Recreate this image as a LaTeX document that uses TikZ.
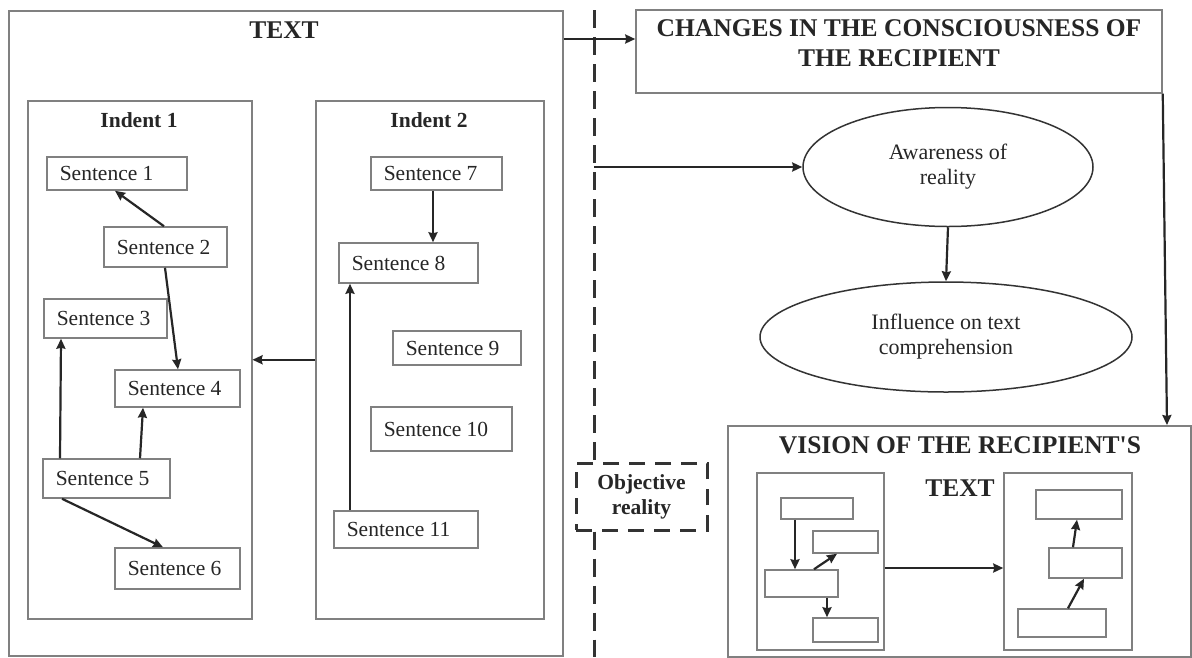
\documentclass[tikz,border=0pt]{standalone}
\usepackage{fontspec}
\setmainfont{Liberation Serif}
\usetikzlibrary{shapes.geometric,arrows.meta,calc}
\begin{document}
\begin{tikzpicture}[x=1pt,y=-1pt,
  frame/.style={draw=black!50, line width=1.5pt, inner sep=0pt, fill=white},
  sent/.style={frame, align=flush left, inner xsep=13pt, inner ysep=0pt, anchor=west,
    text=black!85, font=\fontsize{21.5}{25}\selectfont},
  htitle/.style={font=\fontsize{25.5}{30}\selectfont\bfseries, align=flush center, inner sep=0pt, text=black!85},
  ititle/.style={font=\fontsize{21.5}{25}\selectfont\bfseries, inner sep=0pt, text=black!85},
  oval/.style={ellipse, draw=black!80, line width=1.5pt, inner sep=0pt, align=flush center,
    text=black!85, font=\fontsize{22}{25}\selectfont},
  arr/.style={draw=black!85, line width=2.2pt, -{Stealth[length=10pt,width=9pt,inset=1pt]}},
  dline/.style={draw=black!80, line width=3pt, dash pattern=on 18pt off 9pt},
]
\useasboundingbox (0,0) rectangle (1192,657);
\fill[white] (0,0) rectangle (1192,657);

% TEXT block
\node[frame, minimum width=554, minimum height=645, anchor=north west] (textbox) at (8,10) {};
\node[htitle] (textt) at (284,30) {TEXT};

\node[frame, minimum width=224, minimum height=518, anchor=north west] (ind1) at (27,100) {};
\node[ititle] (ind1t) at (139,120) {Indent 1};
\node[frame, minimum width=228, minimum height=518, anchor=north west] (ind2) at (315,100) {};
\node[ititle] (ind2t) at (429,120) {Indent 2};

\node[sent, text width=114, minimum height=33] (s1) at (46,173.5) {Sentence 1};
\node[sent, text width=97,  minimum height=40] (s2) at (103,247) {Sentence 2};
\node[sent, text width=97,  minimum height=39] (s3) at (43,318.5) {Sentence 3};
\node[sent, text width=99,  minimum height=37] (s4) at (114,388.5) {Sentence 4};
\node[sent, text width=101, minimum height=39] (s5) at (42,478.5) {Sentence 5};
\node[sent, text width=99,  minimum height=41] (s6) at (114,568.5) {Sentence 6};
\node[sent, text width=105, minimum height=33] (s7) at (370,173.5) {Sentence 7};
\node[sent, text width=113, minimum height=40] (s8) at (338,263) {Sentence 8};
\node[sent, text width=102, minimum height=34] (s9) at (392,348) {Sentence 9};
\node[sent, text width=115, minimum height=44] (s10) at (370,429) {Sentence 10};
\node[sent, text width=118, minimum height=37] (s11) at (333,529.5) {Sentence 11};

\draw[arr] (s2.north -| 164,0) -- (s1.south -| 115,0);
\draw[arr] (s2.south -| 165,0) -- (s4.north -| 178,0);
\draw[arr] (s5.north -| 60,0) -- (s3.south -| 61,0);
\draw[arr] (s5.north -| 140,0) -- (s4.south -| 143,0);
\draw[arr] (s5.south -| 62,0) -- (s6.north -| 163,0);
\draw[arr] (s7.south -| 433,0) -- (s8.north -| 433,0);
\draw[arr] (s11.north -| 350,0) -- (s8.south -| 350,0);
\draw[arr] (ind2.west) -- (ind1.east);

% dashed separator
\node[draw=black!80, line width=3pt, dash pattern=on 16pt off 10pt, minimum width=131, minimum height=67,
  inner sep=0pt, align=flush center, text=black!85, font=\fontsize{21.5}{25}\selectfont\bfseries] (obj) at (641.5,496.5) {Objective\\reality};
\coordinate (dtop) at (594,10);
\coordinate (dbot) at (594,657);
\coordinate (dmid) at (594,167);
\draw[dline] (dtop) -- (obj.north -| dtop);
\draw[dline] (obj.south -| dbot) -- (dbot);

% right side
\node[frame, minimum width=526, minimum height=83] (changes) at (899,51.5) {};
\node[htitle] (changest) at (899,43) {CHANGES IN THE CONSCIOUSNESS OF\\THE RECIPIENT};
\draw[arr] (textbox.east |- 0,39) -- (changes.west |- 0,39);

\node[oval, minimum width=290, minimum height=119] (aw) at (948,167) {Awareness of\\reality};
\node[oval, minimum width=372, minimum height=110] (inf) at (946,337) {Influence on text\\comprehension};
\draw[arr] (dmid) -- (aw.west);
\draw[arr] (aw.south) -- (inf.north);

\node[frame, minimum width=463, minimum height=231, anchor=north west] (vision) at (727,425) {};
\node[htitle] (visiont) at (960,466.5) {VISION OF THE RECIPIENT\textquotesingle S\\[13pt]TEXT};
\draw[arr] (changes.south east) -- (vision.north -| 1167,0);

\node[frame, minimum width=127, minimum height=177] (vl) at (820.5,561.5) {};
\node[frame, minimum width=128, minimum height=177] (vr) at (1068,561.5) {};
\node[frame, minimum width=72, minimum height=21] (va) at (817,508.5) {};
\node[frame, minimum width=65, minimum height=22] (vb) at (845.5,542) {};
\node[frame, minimum width=73, minimum height=27] (vc) at (801.5,583.5) {};
\node[frame, minimum width=65, minimum height=24] (vd) at (845.5,630) {};
\node[frame, minimum width=86, minimum height=29] (ve) at (1079,504.5) {};
\node[frame, minimum width=73, minimum height=30] (vf) at (1085.5,563) {};
\node[frame, minimum width=88, minimum height=28] (vg) at (1062,623) {};

\draw[arr] (va.south -| 795,0) -- (vc.north -| 795,0);
\draw[arr] (vc.north -| 814,0) -- (vb.south -| 837,0);
\draw[arr] (vc.south -| 827,0) -- (vd.north -| 827,0);
\draw[arr] (vf.north -| 1073,0) -- (ve.south -| 1077,0);
\draw[arr] (vg.north -| 1068,0) -- (vf.south -| 1084,0);
\draw[arr] (vl.east |- 0,568) -- (vr.west |- 0,568);
\end{tikzpicture}
\end{document}
